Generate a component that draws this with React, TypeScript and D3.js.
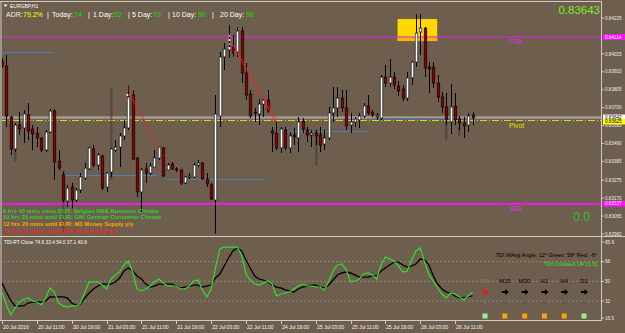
import React from 'react';
import * as d3 from 'd3';

// ---------- DATA ----------
const opens = [0.83973,0.83944,0.83645,0.83458,0.83598,0.83581,0.83657,0.83575,0.83551,0.83522,
0.83452,0.83557,0.83680,0.83387,0.83306,0.83153,0.83235,0.83159,0.83218,0.83288,
0.83341,0.83458,0.83364,0.83417,0.83235,0.83323,0.83452,0.83469,0.83534,0.83581,
0.83774,0.83405,0.83206,0.83341,0.83317,0.83352,0.83405,0.83464,0.83335,0.83370,
0.83341,0.83335,0.83259,0.83294,0.83294,0.83364,0.83376,0.83282,0.83247,0.83159,
0.83651,0.83997,0.84038,0.84055,0.84026,0.84149,0.83903,0.83780,0.83674,0.83663,
0.83721,0.83745,0.83563,0.83551,0.83464,0.83569,0.83464,0.83540,0.83522,0.83622,
0.83569,0.83540,0.83551,0.83540,0.83487,0.83522,0.83669,0.83698,0.83756,0.83698,
0.83598,0.83616,0.83628,0.83651,0.83710,0.83674,0.83645,0.83639,0.83879,0.83844,
0.83879,0.83827,0.83809,0.83756,0.83874,0.83967,0.84143,0.84166,0.83938,0.83938,
0.83844,0.83762,0.83704,0.83616,0.83710,0.83633,0.83610,0.83598,0.83657];
const highs = [0.83991,0.84008,0.83651,0.83610,0.83674,0.83686,0.83727,0.83598,0.83587,0.83528,
0.83569,0.83692,0.83692,0.83452,0.83323,0.83247,0.83259,0.83229,0.83317,0.83376,
0.83469,0.83481,0.83434,0.83423,0.83323,0.83464,0.83510,0.83551,0.83628,0.83827,
0.83803,0.83411,0.83346,0.83376,0.83376,0.83452,0.83469,0.83469,0.83376,0.83382,
0.83352,0.83341,0.83300,0.83317,0.83376,0.83393,0.83382,0.83317,0.83259,0.83774,
0.84026,0.84078,0.84184,0.84125,0.84172,0.84172,0.83961,0.83803,0.83698,0.83751,
0.83751,0.83803,0.83587,0.83616,0.83587,0.83587,0.83557,0.83581,0.83645,0.83639,
0.83587,0.83569,0.83569,0.83587,0.83569,0.83704,0.83821,0.83821,0.83803,0.83803,
0.83669,0.83645,0.83669,0.83727,0.83774,0.83686,0.83669,0.83891,0.83950,0.83985,
0.83909,0.83856,0.83833,0.83909,0.83973,0.84248,0.84248,0.84172,0.83967,0.83967,
0.83891,0.83792,0.83786,0.83838,0.83786,0.83651,0.83645,0.83669,0.83674];
const lows = [0.83932,0.83587,0.83423,0.83440,0.83540,0.83493,0.83510,0.83452,0.83469,0.83440,
0.83440,0.83551,0.83276,0.83335,0.83147,0.83118,0.83110,0.83147,0.83200,0.83276,
0.83335,0.83352,0.83335,0.83218,0.83206,0.83294,0.83440,0.83352,0.83510,0.83569,
0.83393,0.83177,0.83089,0.83259,0.83306,0.83352,0.83393,0.83294,0.83335,0.83335,
0.83323,0.83247,0.83253,0.83282,0.83288,0.83352,0.83276,0.83235,0.83159,0.82962,
0.83587,0.83920,0.83991,0.83997,0.83997,0.83844,0.83745,0.83639,0.83616,0.83598,
0.83645,0.83669,0.83440,0.83452,0.83434,0.83452,0.83434,0.83481,0.83440,0.83551,
0.83499,0.83469,0.83481,0.83440,0.83452,0.83510,0.83616,0.83645,0.83674,0.83569,
0.83551,0.83587,0.83581,0.83639,0.83657,0.83645,0.83628,0.83628,0.83821,0.83821,
0.83809,0.83768,0.83739,0.83739,0.83833,0.83938,0.84008,0.83879,0.83786,0.83815,
0.83733,0.83669,0.83598,0.83546,0.83598,0.83569,0.83522,0.83557,0.83598];
const closes = [0.83944,0.83651,0.83458,0.83598,0.83575,0.83663,0.83563,0.83546,0.83522,0.83452,
0.83557,0.83680,0.83382,0.83346,0.83159,0.83229,0.83159,0.83218,0.83294,0.83346,
0.83464,0.83364,0.83423,0.83229,0.83317,0.83458,0.83469,0.83534,0.83581,0.83762,
0.83399,0.83206,0.83335,0.83317,0.83358,0.83405,0.83469,0.83300,0.83364,0.83341,
0.83335,0.83259,0.83294,0.83300,0.83364,0.83376,0.83282,0.83253,0.83165,0.83663,
0.83997,0.84043,0.84055,0.84020,0.84149,0.83903,0.83774,0.83651,0.83669,0.83721,
0.83745,0.83680,0.83551,0.83464,0.83575,0.83464,0.83534,0.83528,0.83616,0.83575,
0.83540,0.83551,0.83534,0.83481,0.83522,0.83669,0.83698,0.83756,0.83698,0.83592,
0.83616,0.83633,0.83651,0.83710,0.83669,0.83657,0.83651,0.83879,0.83844,0.83879,
0.83833,0.83797,0.83756,0.83874,0.83967,0.84137,0.84166,0.83932,0.83926,0.83844,
0.83762,0.83704,0.83633,0.83704,0.83628,0.83610,0.83592,0.83651,0.83639];

const tdiGreen = [40.2,28.4,19.2,25.6,31.1,33.9,34.8,32.0,31.1,28.4,
34.8,43.9,40.2,30.2,27.5,26.5,27.5,27.5,30.2,40.2,
49.4,49.4,49.4,46.6,43.0,52.1,55.8,58.5,64.9,68.6,
58.5,43.0,41.2,43.0,45.7,49.4,52.1,48.5,45.7,45.7,
45.7,43.0,43.0,45.7,50.3,51.2,42.1,35.7,43.0,62.2,
79.5,81.3,81.3,81.3,81.3,74.0,56.7,51.2,47.5,46.6,
48.5,50.3,47.5,36.6,38.4,39.3,40.2,43.0,45.7,47.5,
45.7,45.7,44.8,44.8,42.1,50.3,59.4,64.9,65.8,60.3,
49.4,50.3,52.1,56.7,57.6,55.8,52.1,64.9,72.2,70.4,
68.6,64.0,58.5,59.4,69.5,77.7,80.4,67.6,55.8,50.3,
43.9,38.4,34.8,39.3,38.4,35.7,32.9,36.6,40.2];
const tdiSignal = [48.5,40.2,32.9,27.5,27.5,27.5,30.2,31.1,31.1,31.1,
32.0,35.7,35.7,35.7,35.7,34.8,30.2,28.4,29.3,34.8,
39.3,43.0,45.7,47.5,47.5,47.5,49.4,53.0,59.4,62.2,
59.4,54.9,52.1,47.5,44.8,45.7,47.5,47.5,47.5,47.5,
45.7,43.9,44.8,45.7,46.6,46.6,44.8,45.7,46.6,53.0,
56.7,64.0,71.3,77.7,80.4,77.7,69.5,62.2,54.9,52.1,
51.2,49.4,46.6,44.8,43.9,42.1,41.2,40.2,43.0,44.8,
45.7,46.6,46.6,44.8,43.9,46.6,51.2,55.8,57.6,58.5,
57.6,55.8,53.9,53.9,53.9,54.9,54.9,59.4,62.2,64.9,
67.6,67.6,64.9,63.1,64.0,65.8,70.4,69.5,64.9,54.9,
47.5,43.0,40.2,39.3,36.6,34.8,34.8,35.7,36.6];

const timeLabels = ['20 Jul 2016','20 Jul 11:00','20 Jul 19:00','21 Jul 03:00','21 Jul 11:00','21 Jul 19:00',
  '22 Jul 03:00','22 Jul 11:00','24 Jul 19:00','25 Jul 03:00','25 Jul 11:00','25 Jul 19:00','26 Jul 03:00','26 Jul 11:00'];
const priceTicks = [0.84225,0.84015,0.83910,0.83805,0.83700,0.83595,0.83490,0.83385,0.83275,0.83170,0.83065,0.82960];
const tdiTicks = [85.9,68,50,32,16.5];
const tdiLevels = [68,50,32];

const levelNames = ['R38','Pivot','S38'];
const levelValues = [0.84114,0.83625,0.83137];
const bidPrice = 0.83642;

const segFrom = [0,14,38,63,85];
const segTo = [11.7,35.6,60,84,108];
const segValues = [0.84026,0.83306,0.83282,0.83565,0.83637];

const shadeBars = [3,14,25,72,102,105];
const shadeTop = [0.83458,0.83335,0.83815,0.83569,0.83633,0.83651];
const shadeBottom = [0.83382,0.82966,0.83276,0.83364,0.83510,0.83534];

const trendB0 = [28.8,29.3,37.3,52.0,53.0,52.6];
const trendP0 = [0.83815,0.83774,0.83423,0.84114,0.84067,0.84090];
const trendB1 = [36.0,36.3,38.8,62.8,63.0,62.4];
const trendP1 = [0.83464,0.83452,0.83370,0.83616,0.83627,0.83640];

const markBars = [28.8,28.8,28.8,52.2,52.2,52.2,52.2,53.4];
const markPrices = [0.83815,0.83774,0.83751,0.84120,0.84096,0.84072,0.84049,0.84026];
const markColors = ['#ff3030','#ffffff','#ff3030','#ff60ff','#ffffff','#ff60ff','#ffffff','#ff3030'];

const boxBars = [90.8,99.9];
const boxPrices = [0.84219,0.84090];

const adrParts = ['ADR:','79.2%','|','Today:','74','|','1 Day:','62','|','5 Day:','79','|','10 Day:','90','|','20 Day:','98'];
const adrColors = ['#f0f0e0','#ffff00','#ffffff','#ffffff','#00e000','#ffffff','#ffffff','#00e000','#ffffff','#ffffff','#00e000','#ffffff','#ffffff','#00e000','#ffffff','#ffffff','#00e000'];
const adrX = [6,23,47,52,74,88,93,114,128,132,153,168,172,198,212,220,246];

const newsLines = ['6 hrs 40 mins since EUR: Belgian NBB Business Climate','10 hrs 20 mins until EUR: GfK German Consumer Climate',
  '12 hrs 20 mins until EUR: M3 Money Supply y/y','12 hrs 50 mins until GBP: Prelim GDP q/q'];
const newsColors = ['#33cc33','#33cc33','#ffa500','#ff2020'];

const tfNames = ['M5','M15','M30','H1','H4','D1'];
const tfArrowUp = [false,true,true,true,true,true];
const tfSquare = ['#98f098','#ffa500','#ffa500','#ffa500','#ffa500','#98f098'];

// ---------- LAYOUT ----------
const W = 625, H = 333;
const BG = '#6d5e4d';
const FRAME = '#d0ccc4';
const PR = 601; // right edge of plotting area

export default function App() {
  const x = d3.scaleLinear().domain([0, 108]).range([2, 472.5]);
  const y = d3.scaleLinear().domain([0.8296, 0.84225]).range([234, 18]);
  const yi = d3.scaleLinear().domain([16.5, 85.9]).range([318, 242]);
  const tfX = d3.scalePoint<string>().domain(tfNames).range([485, 584]);

  const lineGen = d3.line<number>().x((_, i) => x(i)).y((v) => yi(v)).curve(d3.curveLinear);

  const font = 'Arial, "Liberation Sans", sans-serif';

  return (
    <svg width={W} height={H} style={{ position: 'absolute', left: 0, top: 0, display: 'block' }}
      xmlns="http://www.w3.org/2000/svg">
      <defs>
        <clipPath id="mainClip"><rect x={1.5} y={1.5} width={PR - 1.5} height={235} /></clipPath>
        <clipPath id="indClip"><rect x={1.5} y={238} width={PR - 1.5} height={83} /></clipPath>
      </defs>
      <rect x={0} y={0} width={W} height={H} fill={BG} />

      {/* ===== MAIN PANEL ===== */}
      <g clipPath="url(#mainClip)">
        <rect x={x(boxBars[0])} y={y(boxPrices[0])} width={x(boxBars[1]) - x(boxBars[0])}
          height={y(boxPrices[1]) - y(boxPrices[0])} fill="#ffd800" />
        <rect x={x(boxBars[0])} y={y(levelValues[0])} width={x(boxBars[1]) - x(boxBars[0])}
          height={y(boxPrices[1]) - y(levelValues[0])} fill="#ffb400" />

        <line x1={0} x2={PR} y1={y(bidPrice)} y2={y(bidPrice)} stroke="#b0b0b0" strokeOpacity={0.75} strokeWidth={2.5} />

        {segValues.map((v, i) => (
          <line key={'seg' + i} x1={x(segFrom[i])} x2={x(segTo[i])} y1={Math.round(y(v)) + 0.5} y2={Math.round(y(v)) + 0.5}
            stroke="#4f7db5" strokeWidth={1.2} />
        ))}

        <line x1={0} x2={PR} y1={y(levelValues[0])} y2={y(levelValues[0])} stroke="#e020e0" strokeWidth={1} />
        <line x1={0} x2={PR} y1={y(levelValues[1])} y2={y(levelValues[1])} stroke="#e8dc00" strokeWidth={1}
          strokeDasharray="7,2,1,2" />
        <line x1={0} x2={PR} y1={y(levelValues[2])} y2={y(levelValues[2])} stroke="#ff10ff" strokeWidth={1.8} />
        {levelNames.map((n, i) => (
          <text key={n} x={509} y={y(levelValues[i]) + 7.5} fontFamily={font} fontSize={6.8}
            fill={i === 1 ? '#e8e000' : '#e030e0'}>{n}</text>
        ))}

        {shadeBars.map((b, i) => (
          <rect key={'sh' + i} x={Math.round(x(b)) - 1} y={y(shadeTop[i])} width={2.5}
            height={y(shadeBottom[i]) - y(shadeTop[i])} fill="#3a3a3a" fillOpacity={0.5} />
        ))}

        {opens.map((o, i) => {
          const c = closes[i];
          const cx = Math.round(x(i));
          const up = c >= o;
          const top = y(Math.max(o, c));
          const bot = y(Math.min(o, c));
          return (
            <g key={'c' + i}>
              <line x1={cx + 0.5} x2={cx + 0.5} y1={y(highs[i])} y2={y(lows[i])} stroke="#000" strokeWidth={1} />
              <rect x={cx - 0.8} y={top} width={2.6} height={Math.max(1, bot - top)}
                fill={up ? '#ffffff' : '#8b0000'} stroke="#000" strokeWidth={0.6} />
            </g>
          );
        })}

        {trendB0.map((b, i) => (
          <line key={'tr' + i} x1={x(b)} y1={y(trendP0[i])} x2={x(trendB1[i])} y2={y(trendP1[i])}
            stroke="#ff2020" strokeWidth={1.1} strokeDasharray="1,1.4" />
        ))}
        {markBars.map((b, i) => (
          <circle key={'mk' + i} cx={x(b)} cy={y(markPrices[i])} r={1.1} fill={markColors[i]} />
        ))}
      </g>

      {/* top texts */}
      <path d="M3.5,4.5 L7.5,4.5 L5.5,7 Z" fill="#ffffff" />
      <text x={10} y={7.6} fontFamily={font} fontSize={5} fill="#ffffff">EURGBP,H1</text>
      {adrParts.map((t, i) => (
        <text key={'adr' + i} x={adrX[i]} y={17} fontFamily={font} fontSize={7} fill={adrColors[i]}>{t}</text>
      ))}
      <text x={600} y={13.5} textAnchor="end" fontFamily={font} fontSize={11.5} fill="#7cee1c">0.83643</text>
      <text x={590} y={221} textAnchor="end" fontFamily={font} fontSize={12} fill="#30c030">0.0</text>

      {newsLines.map((t, i) => (
        <text key={'nw' + i} x={3} y={212.5 + i * 6.8} fontFamily={font} fontSize={5.8} fontWeight="bold"
          fill={newsColors[i]}>{t}</text>
      ))}

      {/* ===== INDICATOR PANEL ===== */}
      <g clipPath="url(#indClip)">
        {tdiLevels.map((v) => (
          <line key={'lv' + v} x1={0} x2={PR} y1={yi(v)} y2={yi(v)} stroke="#9c8f7e" strokeWidth={0.8} strokeDasharray="2,2" />
        ))}
        <path d={lineGen(tdiSignal) || ''} fill="none" stroke="#000000" strokeWidth={1.3} />
        <path d={lineGen(tdiGreen) || ''} fill="none" stroke="#2ee02e" strokeWidth={1.2} />
      </g>
      <text x={4} y={243.5} fontFamily={font} fontSize={4.8} fill="#ffffff">TDI-RT-Clone 74.6 33.4 54.0 37.1 40.8</text>
      <text x={597} y={257} textAnchor="end" fontFamily={font} fontSize={5.5} fill="#000000">TDI WAvg Angle: 12°  Green: 59°  Red: -6°</text>
      <text x={597} y={265.5} textAnchor="end" fontFamily={font} fontSize={5.6} fill="#22ee22">TDI Crossed UP [1.5]</text>

      {tfNames.map((n, i) => {
        const cx = tfX(n) as number;
        return (
          <g key={'tf' + n}>
            <text x={cx} y={282.5} textAnchor="middle" fontFamily={font} fontSize={6} fill={i === 0 ? '#857766' : '#000000'}>{n}</text>
            <path d="M-3,-1 L0.5,-1 L0.5,-3 L4,0 L0.5,3 L0.5,1 L-3,1 Z"
              transform={`translate(${cx},292) rotate(${tfArrowUp[i] ? 0 : 45})`} fill={tfArrowUp[i] ? '#000000' : '#ff1010'} />
            {i === 0
              ? <circle cx={cx} cy={303} r={0.8} fill="#8a8a8a" />
              : <circle cx={cx} cy={303} r={2.2} fill="#5e5a56" />}
            <rect x={cx - 2.5} y={313.5} width={5} height={5} fill={tfSquare[i]} />
          </g>
        );
      })}

      {/* ===== FRAMES ===== */}
      <line x1={0} x2={PR} y1={1.5} y2={1.5} stroke={FRAME} strokeWidth={1} />
      <line x1={1} x2={1} y1={1} y2={321} stroke={FRAME} strokeWidth={1} />
      <line x1={PR + 0.5} x2={PR + 0.5} y1={1} y2={321} stroke={FRAME} strokeWidth={1} />
      <line x1={0} x2={W} y1={236.5} y2={236.5} stroke={FRAME} strokeWidth={1.2} />
      <line x1={0} x2={PR} y1={320.5} y2={320.5} stroke={FRAME} strokeWidth={1} />

      {priceTicks.map((p) => (
        <g key={'pt' + p}>
          <line x1={PR + 1} x2={PR + 3} y1={y(p)} y2={y(p)} stroke="#e8e8e8" strokeWidth={0.8} />
          <text x={605} y={y(p) + 1.7} fontFamily={font} fontSize={4.6} fill="#ececec">{p.toFixed(5)}</text>
        </g>
      ))}
      <rect x={603} y={y(levelValues[0]) - 3} width={22} height={6} fill="#ff10ff" />
      <text x={605} y={y(levelValues[0]) + 1.7} fontFamily={font} fontSize={4.6} fill="#ffffff">{levelValues[0].toFixed(5)}</text>
      <rect x={603} y={y(bidPrice) - 3} width={22} height={6} fill="#ffffff" />
      <text x={605} y={y(bidPrice) + 1.7} fontFamily={font} fontSize={4.6} fill="#000000">{bidPrice.toFixed(5)}</text>
      <rect x={603} y={y(levelValues[1]) - 1.5} width={22} height={5.5} fill="#ffff00" />
      <text x={605} y={y(levelValues[1]) + 3} fontFamily={font} fontSize={4.6} fill="#000000">{levelValues[1].toFixed(5)}</text>
      <rect x={603} y={y(levelValues[2]) - 3} width={22} height={6} fill="#ff10ff" />
      <text x={605} y={y(levelValues[2]) + 1.7} fontFamily={font} fontSize={4.6} fill="#ffffff">{levelValues[2].toFixed(5)}</text>

      {tdiTicks.map((v) => (
        <g key={'it' + v}>
          <line x1={PR + 1} x2={PR + 3} y1={yi(v)} y2={yi(v)} stroke="#e8e8e8" strokeWidth={0.8} />
          <text x={605} y={yi(v) + 1.7} fontFamily={font} fontSize={4.6} fill="#ececec">{v}</text>
        </g>
      ))}

      {timeLabels.map((t, k) => {
        const tx = Math.round(x(k * 8)) + 0.5;
        return (
          <g key={'tl' + k}>
            <line x1={tx} x2={tx} y1={321} y2={324} stroke="#e8e8e8" strokeWidth={0.8} />
            <text x={tx + 0.5} y={329} fontFamily={font} fontSize={5.4} letterSpacing={-0.2} fill="#f0f0f0">{t}</text>
          </g>
        );
      })}
    </svg>
  );
}
